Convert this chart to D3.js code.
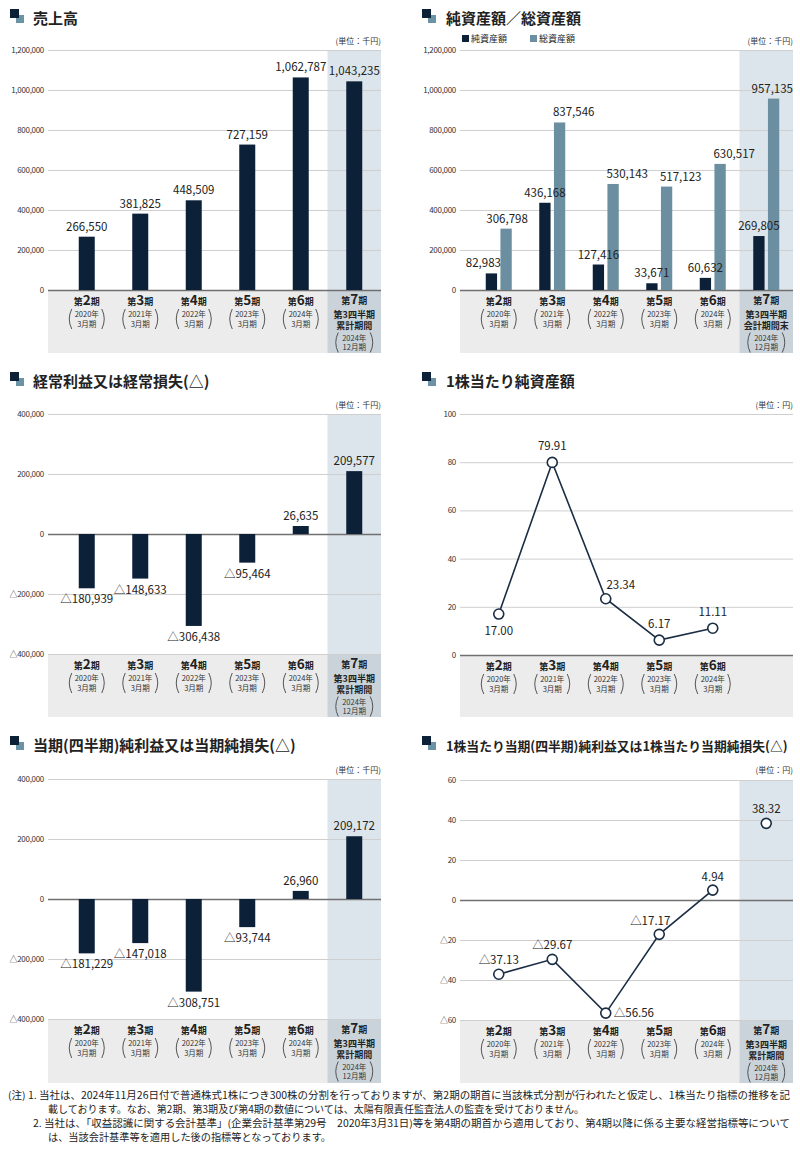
<!DOCTYPE html>
<html><head><meta charset="utf-8">
<script src="https://cdn.jsdelivr.net/npm/d3@7"></script>
<style>body{margin:0;background:#fff} svg{display:block} text{font-family:"Noto Sans CJK JP","Noto Sans",sans-serif}</style>
</head><body><svg id="c" width="800" height="1154"></svg>
<script>
// ---------------- data ----------------
const periodNums = ["2","3","4","5","6","7"];
const periodYears = ["2020年","2021年","2022年","2023年","2024年","2024年"];
const periodMonths = ["3月期","3月期","3月期","3月期","3月期","12月期"];
const lastLinesCum = ["第3四半期","累計期間"];
const lastLinesEnd = ["第3四半期","会計期間末"];
const sales = [266550,381825,448509,727159,1062787,1043235];
const netAssets = [82983,436168,127416,33671,60632,269805];
const totalAssets = [306798,837546,530143,517123,630517,957135];
const ordinaryProfit = [-180939,-148633,-306438,-95464,26635,209577];
const bps = [17.00,79.91,23.34,6.17,11.11];
const netIncome = [-181229,-147018,-308751,-93744,26960,209172];
const eps = [-37.13,-29.67,-56.56,-17.17,4.94,38.32];
const ticksSales = [0,200000,400000,600000,800000,1000000,1200000];
const ticksProfit = [-400000,-200000,0,200000,400000];
const ticksBps = [0,20,40,60,80,100];
const ticksEps = [-60,-40,-20,0,20,40,60];
const seriesNames = ["純資産額","総資産額"];
const notes = [
 "(注) 1. 当社は、2024年11月26日付で普通株式1株につき300株の分割を行っておりますが、第2期の期首に当該株式分割が行われたと仮定し、1株当たり指標の推移を記",
 "載しております。なお、第2期、第3期及び第4期の数値については、太陽有限責任監査法人の監査を受けておりません。",
 "2. 当社は、「収益認識に関する会計基準」(企業会計基準第29号　2020年3月31日)等を第4期の期首から適用しており、第4期以降に係る主要な経営指標等について",
 "は、当該会計基準等を適用した後の指標等となっております。"
];

// ---------------- style ----------------
const DARK = "#0c2038", LIGHT = "#6b8fa0", SHADE = "#dce5eb", BAND = "#ececec", BAND7 = "#cbd3da";
const GRID = "#cfcfcf", ZERO = "#707070", TXT = "#222";
const svg = d3.select("#c");
const fmtInt = v => (v < 0 ? "△" : "") + d3.format(",")(Math.abs(v));
const fmtDec = v => (v < 0 ? "△" : "") + d3.format(".2f")(Math.abs(v));
const fmtTick = v => (v < 0 ? "△" : "") + d3.format(",")(Math.abs(v));

function icon(x, y) {
  svg.append("rect").attr("x", x + 6).attr("y", y + 6).attr("width", 8).attr("height", 8).attr("fill", "#6a93a6");
  svg.append("rect").attr("x", x).attr("y", y).attr("width", 9).attr("height", 9).attr("fill", DARK);
}

function panel(o) {
  const g = svg.append("g");
  icon(o.gx0 - 38, o.titleY - 15);
  g.append("text").attr("x", o.titleX).attr("y", o.titleY).attr("font-size", o.titleSize || 15).attr("font-weight", 700).attr("fill", TXT).text(o.title);
  g.append("text").attr("x", o.gx1).attr("y", o.unitY).attr("text-anchor", "end").attr("font-size", 8).attr("fill", "#333").text(o.unit);

  const y = d3.scaleLinear().domain(o.domain).range(o.yRange);
  const x = d3.scaleBand().domain(d3.range(6)).range(o.xRange);
  const yTop = o.yRange[1], yBot = o.yRange[0];

  if (o.shade) {
    g.append("rect").attr("x", x(5)).attr("y", yTop).attr("width", o.gx1 - x(5)).attr("height", yBot - yTop).attr("fill", SHADE);
  }
  g.append("rect").attr("x", o.gx0).attr("y", yBot).attr("width", o.gx1 - o.gx0).attr("height", o.bandH).attr("fill", BAND);
  if (o.shade) g.append("rect").attr("x", x(5)).attr("y", yBot).attr("width", o.gx1 - x(5)).attr("height", o.bandH).attr("fill", BAND7);

  const ax = g.append("g").attr("transform", `translate(${o.gx0},0)`)
    .call(d3.axisLeft(y).tickValues(o.ticks).tickFormat(fmtTick).tickSize(-(o.gx1 - o.gx0)).tickPadding(4));
  ax.select(".domain").remove();
  ax.selectAll(".tick line").attr("stroke", d => d === 0 ? ZERO : GRID).attr("stroke-width", d => d === 0 ? 1.3 : 1);
  ax.selectAll(".tick text").attr("font-size", 8).attr("fill", "#333").attr("font-family", "'Noto Sans CJK JP',sans-serif").attr("letter-spacing", -0.3);
  ax.selectAll(".tick").filter(d => d === 0).raise();

  for (let i = 0; i < o.nCats; i++) {
    const cx = x(i) + x.bandwidth() / 2;
    const last = i === 5;
    const t1 = g.append("text").attr("x", cx).attr("y", yBot + (last ? 13.5 : 15)).attr("text-anchor", "middle").attr("font-weight", 700).attr("fill", TXT);
    t1.append("tspan").attr("font-size", 9).text("第");
    t1.append("tspan").attr("font-size", 13.5).text(periodNums[i]);
    t1.append("tspan").attr("font-size", 9).text("期");
    let base = yBot + 27;
    if (last) {
      o.lastLines.forEach((s, k) => {
        g.append("text").attr("x", cx).attr("y", yBot + 27.5 + k * 11.8).attr("text-anchor", "middle").attr("font-size", 9).attr("font-weight", 700).attr("fill", TXT).text(s);
      });
      base = yBot + 50.5;
    }
    g.append("text").attr("x", cx).attr("y", base).attr("text-anchor", "middle").attr("font-size", 7.5).attr("fill", "#333").text(periodYears[i]);
    g.append("text").attr("x", cx).attr("y", base + 9.5).attr("text-anchor", "middle").attr("font-size", 7.5).attr("fill", "#333").text(periodMonths[i]);
    const pt = base - 8, pb = base + 12, pm = (pt + pb) / 2;
    const w = last ? 18 : 17;
    g.append("path").attr("d", `M${cx - w + 2},${pt} Q${cx - w - 3},${pm} ${cx - w + 2},${pb}`).attr("fill", "none").attr("stroke", "#444").attr("stroke-width", 0.9);
    g.append("path").attr("d", `M${cx + w - 2},${pt} Q${cx + w + 3},${pm} ${cx + w - 2},${pb}`).attr("fill", "none").attr("stroke", "#444").attr("stroke-width", 0.9);
  }
  return { g, x, y };
}

function valueLabel(g, x, y, s, anchor) {
  g.append("text").attr("x", x).attr("y", y).attr("text-anchor", anchor || "middle").attr("font-size", 11.5)
    .attr("font-family", "'Noto Sans','Open Sans',sans-serif").attr("fill", TXT).text(s);
}

function singleBars(p, vals) {
  const bw = 16;
  vals.forEach((v, i) => {
    const cx = p.x(i) + p.x.bandwidth() / 2;
    const y0 = p.y(0), y1 = p.y(v);
    p.g.append("rect").attr("x", cx - bw / 2).attr("y", Math.min(y0, y1)).attr("width", bw).attr("height", Math.abs(y1 - y0)).attr("fill", DARK);
  });
  vals.forEach((v, i) => {
    const cx = p.x(i) + p.x.bandwidth() / 2;
    const y1 = p.y(v);
    if (v >= 0) valueLabel(p.g, cx, y1 - 6, fmtInt(v));
    else valueLabel(p.g, cx, y1 + 15, fmtInt(v));
  });
}

// ---------- Panel 1 ----------
const p1 = panel({ title: "売上高", titleX: 33, titleY: 24, unit: "(単位：千円)", unitY: 44, domain: [0, 1200000], yRange: [290, 50],
  ticks: ticksSales, gx0: 48, gx1: 381, xRange: [60, 381], shade: true, bandH: 63, nCats: 6, lastLines: lastLinesCum });
singleBars(p1, sales);

// ---------- Panel 2 ----------
const p2 = panel({ title: "純資産額／総資産額", titleX: 446, titleY: 24, unit: "(単位：千円)", unitY: 44, domain: [0, 1200000], yRange: [290, 50],
  ticks: ticksSales, gx0: 460, gx1: 793, xRange: [472, 793], shade: true, bandH: 63, nCats: 6, lastLines: lastLinesEnd });
{
  const inner = d3.scaleBand().domain([0, 1]).range([-13, 13]).paddingInner(0.23);
  const series = [netAssets, totalAssets];
  series.forEach((arr, s) => {
    arr.forEach((v, i) => {
      const bx = p2.x(i) + p2.x.bandwidth() / 2 + inner(s);
      p2.g.append("rect").attr("x", bx).attr("y", p2.y(v)).attr("width", inner.bandwidth()).attr("height", p2.y(0) - p2.y(v)).attr("fill", s ? LIGHT : DARK);
    });
  });
  series.forEach((arr, s) => {
    arr.forEach((v, i) => {
      const bx = p2.x(i) + p2.x.bandwidth() / 2 + inner(s);
      const bc = bx + inner.bandwidth() / 2;
      const yy = p2.y(v) - 6;
      if (s === 0) valueLabel(p2.g, i === 0 ? bc - 8 : bc, yy, fmtInt(v));
      else if (i === 0) valueLabel(p2.g, bc + 1, yy, fmtInt(v));
      else if (i === 5) valueLabel(p2.g, 793, yy, fmtInt(v), "end");
      else valueLabel(p2.g, bx - 1, yy, fmtInt(v), "start");
    });
  });
  seriesNames.forEach((nm, s) => {
    const lx = s ? 530 : 462;
    p2.g.append("rect").attr("x", lx).attr("y", 35).attr("width", 7).attr("height", 7).attr("fill", s ? LIGHT : DARK);
    p2.g.append("text").attr("x", lx + 9).attr("y", 42).attr("font-size", 9).attr("fill", TXT).text(nm);
  });
}

// ---------- Panel 3 ----------
const p3 = panel({ title: "経常利益又は経常損失(△)", titleX: 33, titleY: 387, unit: "(単位：千円)", unitY: 408, domain: [-400000, 400000], yRange: [654, 414],
  ticks: ticksProfit, gx0: 48, gx1: 381, xRange: [60, 381], shade: true, bandH: 63, nCats: 6, lastLines: lastLinesCum });
singleBars(p3, ordinaryProfit);

// ---------- Panel 4 ----------
const p4 = panel({ title: "1株当たり純資産額", titleX: 446, titleY: 387, unit: "(単位：円)", unitY: 408, domain: [0, 100], yRange: [655, 414],
  ticks: ticksBps, gx0: 460, gx1: 793, xRange: [472, 793], shade: false, bandH: 62, nCats: 5, lastLines: [] });
function lineSeries(p, vals, nLine, labelPos) {
  const cxs = i => p.x(i) + p.x.bandwidth() / 2;
  const line = d3.line().x((d, i) => cxs(i)).y(d => p.y(d));
  p.g.append("path").attr("d", line(vals.slice(0, nLine))).attr("fill", "none").attr("stroke", "#1a2d44").attr("stroke-width", 1.6);
  vals.forEach((v, i) => {
    p.g.append("circle").attr("cx", cxs(i)).attr("cy", p.y(v)).attr("r", 5).attr("fill", "#fff").attr("stroke", "#1a2d44").attr("stroke-width", 1.6);
    const [dx, dy, an] = labelPos[i];
    valueLabel(p.g, cxs(i) + dx, p.y(v) + dy, fmtDec(v), an);
  });
}
lineSeries(p4, bps, 5, [[0, 21, "middle"], [0, -12, "middle"], [15, -10, "middle"], [0, -12, "middle"], [0, -12, "middle"]]);

// ---------- Panel 5 ----------
const p5 = panel({ title: "当期(四半期)純利益又は当期純損失(△)", titleX: 33, titleY: 751, unit: "(単位：千円)", unitY: 773, domain: [-400000, 400000], yRange: [1019, 779],
  ticks: ticksProfit, gx0: 48, gx1: 381, xRange: [60, 381], shade: true, bandH: 64, nCats: 6, lastLines: lastLinesCum });
singleBars(p5, netIncome);

// ---------- Panel 6 ----------
const p6 = panel({ title: "1株当たり当期(四半期)純利益又は1株当たり当期純損失(△)", titleX: 446, titleY: 751, titleSize: 12.8, unit: "(単位：円)", unitY: 773, domain: [-60, 60], yRange: [1020, 780],
  ticks: ticksEps, gx0: 460, gx1: 793, xRange: [472, 793], shade: true, bandH: 63, nCats: 6, lastLines: lastLinesCum });
lineSeries(p6, eps, 5, [[0, -10, "middle"], [0, -10, "middle"], [8, 4, "start"], [-9, -9, "middle"], [0, -9, "middle"], [0, -10, "middle"]]);

// ---------- notes ----------
const noteX = [8, 48, 33, 48], noteY = [1099, 1113, 1127, 1141], noteLen = [782, 536, 757, 283];
notes.forEach((s, i) => {
  svg.append("text").attr("x", noteX[i]).attr("y", noteY[i]).attr("font-size", 10).attr("fill", TXT)
    .attr("textLength", noteLen[i]).attr("lengthAdjust", "spacingAndGlyphs").text(s);
});
</script></body></html>
